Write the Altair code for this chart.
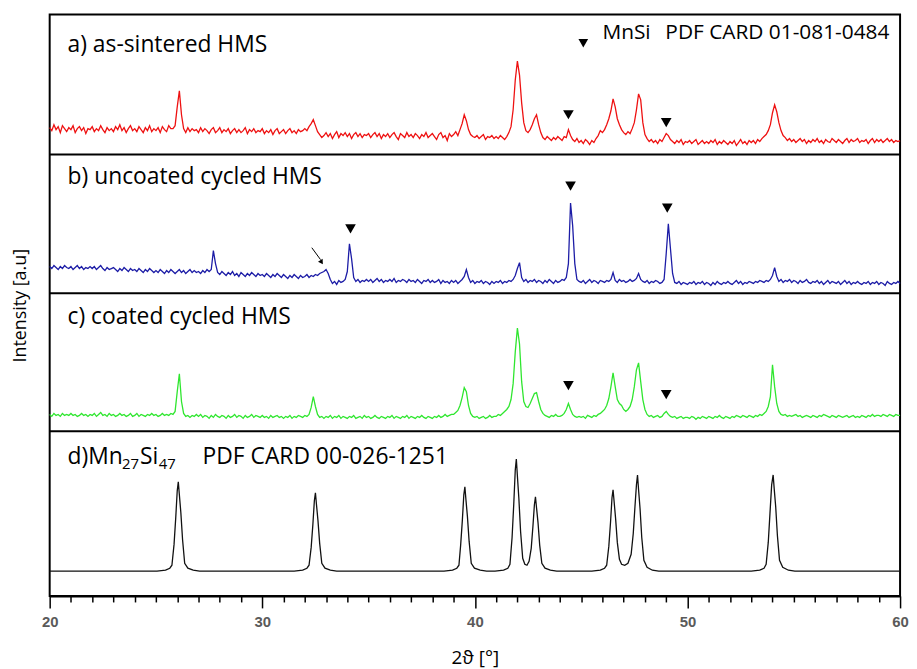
import altair as alt
import numpy as np
import pandas as pd

# ---------------- data (intensity in arbitrary units) ----------------
two_theta = np.round(np.arange(200, 601) / 10.0, 1)  # 20.0 ... 60.0 step 0.1

a_sintered = [
    27,24,30,25,28,22,29,26,23,27,
    25,29,22,26,28,24,27,21,26,25,
    28,23,26,24,29,25,22,27,24,26,
    23,28,25,30,24,27,22,26,29,24,
    26,23,28,25,22,27,24,29,23,26,
    24,27,22,28,25,23,29,26,26,29,
    48,64,40,26,22,27,23,26,24,25,
    22,27,23,26,24,21,25,27,22,24,
    27,22,25,23,26,21,24,26,22,25,
    22,24,27,21,25,23,26,22,24,23,
    26,21,24,22,25,20,24,26,21,23,
    25,21,24,26,22,24,21,25,23,24,
    26,24,28,31,35,29,23,20,17,19,
    22,18,21,16,20,23,17,21,19,22,
    18,21,16,20,22,18,21,17,20,19,
    21,17,20,22,18,21,16,20,18,21,
    17,20,22,18,15,21,19,17,22,18,
    20,17,21,19,16,20,18,22,17,19,
    21,18,15,20,22,17,19,14,21,18,
    20,23,19,25,31,40,34,25,20,18,
    17,19,16,18,20,15,18,17,19,16,
    18,16,19,17,15,18,22,28,45,75,
    94,80,52,32,24,22,25,30,36,40,
    30,22,17,15,18,16,14,17,15,18,
    16,14,18,17,25,19,15,13,16,12,
    14,11,15,13,10,14,12,16,19,24,
    22,25,30,36,44,56,48,36,30,25,
    22,20,23,21,26,32,45,61,55,32,
    20,16,13,15,12,14,11,15,13,17,
    21,19,15,13,11,14,12,15,10,13,
    12,14,11,13,15,10,12,14,11,13,
    11,14,12,15,10,13,11,14,12,10,
    13,11,14,9,12,15,11,13,10,14,
    12,14,11,15,13,16,18,20,24,30,
    42,50,43,32,24,19,17,14,16,13,
    15,12,14,16,13,15,11,14,12,15,
    13,16,12,14,11,15,13,12,16,14,
    12,15,13,11,14,16,12,15,13,14,
    16,12,14,13,15,11,14,16,12,15,
    13,15,12,14,16,13,15,12,14,13,
    14,
]

b_uncoated = [
    27,25,28,26,24,27,25,28,26,25,
    27,24,26,28,25,27,24,26,25,27,
    25,27,24,26,28,25,23,26,24,25,
    26,24,22,25,23,26,24,22,25,23,
    24,22,25,23,21,24,22,25,23,21,
    23,21,24,22,20,23,21,24,22,20,
    22,24,21,23,20,22,24,21,23,21,
    22,20,23,21,24,22,24,43,30,21,
    19,22,20,18,21,19,22,18,20,17,
    21,19,17,20,18,21,19,17,20,18,
    19,17,20,18,16,19,17,20,18,16,
    19,17,15,18,16,19,17,15,18,16,
    17,19,16,18,17,19,18,20,21,22,
    24,20,14,10,12,9,13,11,12,14,
    22,50,35,16,12,14,11,13,12,14,
    12,14,11,13,15,12,14,11,13,12,
    14,12,15,11,13,12,14,13,11,14,
    12,13,11,14,12,10,13,12,14,11,
    13,11,12,14,10,13,11,12,10,13,
    11,13,10,12,14,17,24,16,11,13,
    10,12,11,13,10,12,11,9,12,10,
    12,11,13,10,12,11,13,12,14,18,
    25,31,16,12,14,11,13,12,14,11,
    13,12,10,13,11,14,12,10,13,11,
    12,14,13,16,30,91,68,30,14,12,
    11,13,10,12,14,11,13,12,10,13,
    12,11,13,12,14,21,13,11,14,12,
    13,11,12,14,12,13,15,20,14,12,
    11,13,10,12,11,13,12,10,11,14,
    40,70,45,20,11,10,12,9,11,10,
    9,11,10,12,9,11,10,12,9,11,
    10,8,11,9,12,10,9,11,10,12,
    10,9,11,13,10,12,9,11,10,12,
    11,10,12,11,13,12,11,13,12,14,
    18,26,17,12,14,11,13,12,14,11,
    13,12,10,13,11,12,14,11,10,12,
    11,13,10,12,9,11,13,10,12,11,
    10,12,9,11,13,10,12,9,11,10,
    12,10,9,11,10,12,9,11,10,12,
    9,11,10,8,12,10,9,11,10,12,
    10,
]

c_coated = [
    17,15,18,16,17,15,18,16,17,16,
    18,16,17,15,16,18,16,17,15,17,
    16,18,15,17,19,16,17,15,18,16,
    17,15,16,18,16,17,15,16,18,15,
    16,18,15,17,16,15,17,16,18,16,
    17,15,16,18,16,17,16,18,17,20,
    40,58,30,18,15,16,14,16,15,17,
    15,17,14,16,15,13,16,14,17,15,
    14,16,15,13,16,14,15,17,14,16,
    15,13,16,14,15,17,14,16,15,14,
    16,14,15,13,16,14,15,16,14,15,
    13,15,14,16,13,15,14,16,15,14,
    16,15,17,24,35,25,17,14,15,13,
    15,14,16,13,15,14,16,13,15,14,
    13,15,14,16,13,14,15,13,16,14,
    15,13,14,16,14,13,15,14,13,15,
    14,16,13,15,14,13,15,14,16,13,
    15,14,13,15,14,16,14,13,15,14,
    13,15,14,16,14,15,17,15,16,17,
    17,19,21,26,34,44,40,26,18,15,
    14,15,13,14,15,13,14,16,14,15,
    15,17,16,18,20,22,25,32,48,80,
    104,88,50,30,25,24,28,33,38,39,
    30,22,18,16,15,14,16,15,17,15,
    15,16,18,22,28,22,17,15,14,15,
    14,15,13,16,15,14,16,15,17,18,
    20,22,26,33,45,59,45,32,28,26,
    22,20,22,25,32,45,62,69,50,32,
    22,17,15,16,14,15,16,14,15,18,
    20,17,15,14,15,13,14,15,13,14,
    14,13,15,14,12,14,13,15,14,13,
    15,14,13,15,14,16,14,13,15,14,
    13,15,14,16,15,14,16,15,14,16,
    15,14,16,15,17,16,18,20,25,35,
    67,45,28,20,17,16,17,15,16,15,
    16,17,15,16,14,15,16,15,14,16,
    15,14,16,15,17,16,15,14,16,15,
    14,16,15,14,15,16,14,15,16,14,
    15,14,16,15,14,16,15,17,15,16,
    16,15,17,16,15,17,16,15,17,16,
    16,
]

d_theta = [
    20.0, 25.05, 25.45, 25.65, 25.75, 25.85, 25.93, 26.0, 26.05, 26.1, 26.17, 26.25, 26.35, 26.5, 26.75, 27.05,
    31.5, 31.9, 32.1, 32.2, 32.3, 32.38, 32.45, 32.5, 32.55, 32.62, 32.7, 32.8, 32.95, 33.2, 33.5,
    38.55, 38.95, 39.15, 39.25, 39.33, 39.41, 39.48, 39.53, 39.58, 39.65, 39.73, 39.83, 39.98, 40.25, 40.55,
    40.95, 41.35, 41.55, 41.65, 41.75, 41.83, 41.9, 41.95, 42.0, 42.07, 42.15, 42.25, 42.35, 42.45, 42.55,
    42.65, 42.73, 42.8, 42.85, 42.9, 42.97, 43.05, 43.15, 43.3, 43.55, 43.85,
    45.5, 45.9, 46.1, 46.2, 46.3, 46.38, 46.45, 46.5, 46.55, 46.62, 46.7, 46.8, 46.9, 47.05,
    47.2, 47.35, 47.45, 47.53, 47.6, 47.65, 47.7, 47.77, 47.85, 47.95, 48.1, 48.35, 48.65,
    53.0, 53.4, 53.6, 53.7, 53.8, 53.88, 53.96, 54.03, 54.08, 54.15, 54.23, 54.33, 54.48, 54.75, 55.05, 60.0,
]
d_mn27si47 = [
    25, 25, 26, 28, 31, 52, 79, 106, 115, 102, 84, 57, 33, 28, 26, 25,
    25, 26, 28, 31, 49, 72, 96, 104, 92, 76, 53, 33, 28, 26, 25,
    25, 26, 28, 31, 51, 76, 102, 110, 97, 80, 55, 33, 28, 26, 25,
    25, 26, 28, 32, 59, 93, 127, 138, 121, 98, 65, 38, 32, 31, 35,
    48, 70, 92, 100, 89, 74, 51, 33, 28, 26, 25,
    25, 26, 28, 31, 50, 74, 99, 107, 95, 78, 54, 37, 32, 31,
    33, 42, 63, 90, 112, 122, 107, 88, 59, 36, 29, 26, 25,
    25, 26, 28, 32, 54, 83, 112, 122, 108, 90, 61, 36, 29, 26, 25, 25,
]

assert len(a_sintered) == 401 and len(b_uncoated) == 401 and len(c_coated) == 401
assert len(d_theta) == len(d_mn27si47)

# MnSi peak markers (2theta, marker level) per panel
mnsi_theta = [44.4, 49.0, 34.15, 44.5, 49.05, 44.4, 49.0]
mnsi_level = [40, 32, 65, 108, 86, 46, 37]
mnsi_panel = ["a", "a", "b", "b", "b", "c", "c"]

panel_names = ["a", "b", "c", "d"]
panel_colors = ["#ee1111", "#1c1ca6", "#2fe62f", "#111111"]
panel_offset = {"a": 445, "b": 305, "c": 166, "d": 0}
separators = [166, 305, 445]

# ---------------- build tables ----------------
frames = []
for name, vals in (("a", a_sintered), ("b", b_uncoated), ("c", c_coated)):
    frames.append(pd.DataFrame({"x": two_theta, "v": vals, "panel": name}))
frames.append(pd.DataFrame({"x": d_theta, "v": d_mn27si47, "panel": "d"}))
lines_df = pd.concat(frames, ignore_index=True)
lines_df["y"] = lines_df["v"] + lines_df["panel"].map(panel_offset)

marks_df = pd.DataFrame({"x": mnsi_theta, "v": mnsi_level, "panel": mnsi_panel})
marks_df["y"] = marks_df["v"] + marks_df["panel"].map(panel_offset)
legend_marker = pd.DataFrame({"x": [45.1], "y": [557]})

sep_df = pd.DataFrame({"y": separators})

labels_big = pd.DataFrame({
    "x": [20.84, 20.84, 20.84, 20.84, 24.25, 27.19],
    "y": [548, 415, 274, 133, 133, 133],
    "t": ["a) as-sintered HMS", "b) uncoated cycled HMS", "c) coated cycled HMS", "d)Mn", "Si",
          "PDF CARD 00-026-1251"],
})
labels_sub = pd.DataFrame({"x": [23.40, 25.13], "y": [128, 128], "t": ["27", "47"]})
labels_leg = pd.DataFrame({"x": [46.0, 48.96], "y": [561, 561], "t": ["MnSi", "PDF CARD 01-081-0484"]})

arrow_df = pd.DataFrame({"x": [32.33], "y": [351], "x2": [32.74], "y2": [339]})
arrow_head = pd.DataFrame({"x": [32.77], "y": [337]})

# ---------------- encodings ----------------
xscale = alt.Scale(domain=[20, 60], nice=False, zero=False)
yscale = alt.Scale(domain=[0, 586], nice=False, zero=False)
xaxis = alt.Axis(
    values=list(range(20, 61)),
    labelExpr="datum.value % 10 === 0 ? datum.label : ''",
    tickSize={"condition": {"test": "datum.value % 10 === 0", "value": 12}, "value": 6},
    tickColor="black", tickWidth=1.5, domainColor="black", domainWidth=2,
    labelColor="#5a5a5a", labelFont="Liberation Sans", labelFontSize=15, labelFontWeight="bold",
    labelPadding=7, labelOverlap=False, labelFlush=False, grid=False,
    title="2ϑ [°]", titleFont="Open Sans", titleFontSize=19, titleFontWeight="normal",
    titleColor="black", titlePadding=19,
)
yaxis = alt.Axis(
    labels=False, ticks=False, domain=False, grid=False,
    title="Intensity [a.u]", titleFont="Open Sans", titleFontSize=18, titleFontWeight="normal",
    titleColor="black", titlePadding=20,
)


def X(field="x"):
    return alt.X(f"{field}:Q", scale=xscale, axis=xaxis, title="2ϑ [°]")


def Y(field="y"):
    return alt.Y(f"{field}:Q", scale=yscale, axis=yaxis, title="Intensity [a.u]")


lines = alt.Chart(lines_df).mark_line(strokeWidth=1.3).encode(
    x=X(), y=Y(),
    color=alt.Color("panel:N", scale=alt.Scale(domain=panel_names, range=panel_colors), legend=None),
    detail="panel:N",
)

seps = alt.Chart(sep_df).mark_rule(color="black", strokeWidth=2).encode(y=Y())

tri = alt.Chart(marks_df).mark_point(shape="triangle-down", filled=True, color="black", size=115,
                                     opacity=1).encode(x=X(), y=Y())
tri_leg = alt.Chart(legend_marker).mark_point(shape="triangle-down", filled=True, color="black",
                                               size=95, opacity=1).encode(x=X(), y=Y())

arrow = alt.Chart(arrow_df).mark_rule(color="black", strokeWidth=1).encode(
    x=X(), y=Y(), x2="x2:Q", y2="y2:Q")
head = alt.Chart(arrow_head).mark_point(shape="triangle", filled=True, color="black", size=30,
                                        angle=148, opacity=1).encode(x=X(), y=Y())

txt_big = alt.Chart(labels_big).mark_text(align="left", baseline="alphabetic", font="Open Sans",
                                          fontSize=23, color="black").encode(x=X(), y=Y(), text="t:N")
txt_sub = alt.Chart(labels_sub).mark_text(align="left", baseline="alphabetic", font="Open Sans",
                                          fontSize=15, color="black").encode(x=X(), y=Y(), text="t:N")
txt_leg = alt.Chart(labels_leg).mark_text(align="left", baseline="alphabetic", font="Open Sans",
                                          fontSize=21, color="black").encode(x=X(), y=Y(), text="t:N")

chart = alt.layer(lines, seps, tri, tri_leg, arrow, head, txt_big, txt_sub, txt_leg).properties(
    width=857, height=586,
    padding={"left": 4, "top": 4, "right": 0, "bottom": 0},
    background="white",
).configure_view(stroke="black", strokeWidth=2)

chart.save("out.html", embed_options={"renderer": "svg", "actions": False})
